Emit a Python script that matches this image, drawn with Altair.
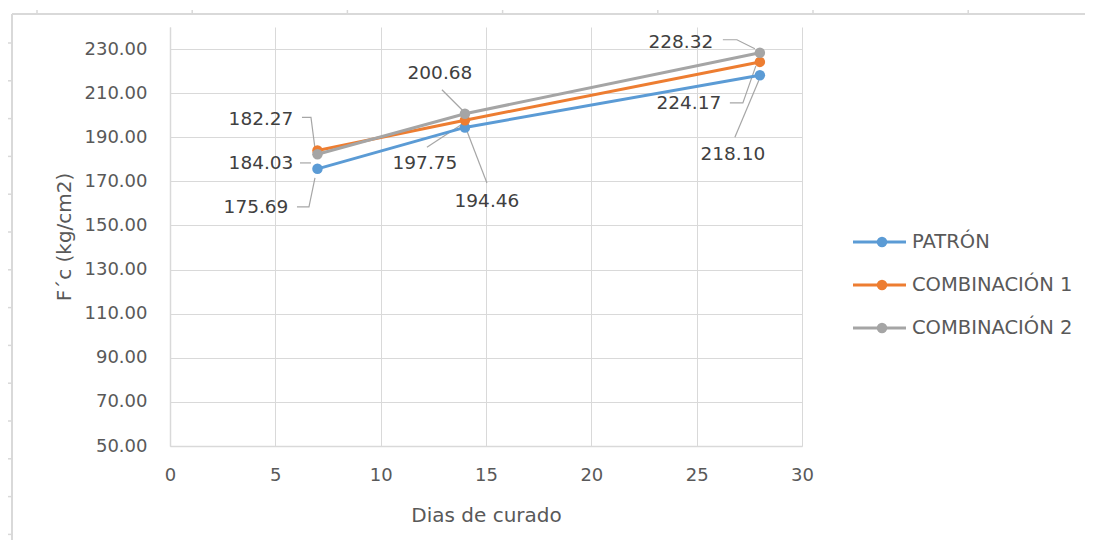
import altair as alt
import pandas as pd

# ---------------- data ----------------
days = [7, 14, 28]
series_names = ["PATRÓN", "COMBINACIÓN 1", "COMBINACIÓN 2"]
patron = [175.69, 194.46, 218.10]
combinacion1 = [184.03, 197.75, 224.17]
combinacion2 = [182.27, 200.68, 228.32]
values_by_series = [patron, combinacion1, combinacion2]

x_ticks = [0, 5, 10, 15, 20, 25, 30]
y_ticks = [50, 70, 90, 110, 130, 150, 170, 190, 210, 230]

# ---------------- style ----------------
colors = ["#5B9BD5", "#ED7D31", "#A5A5A5"]
FONT = "DejaVu Sans"
W, H = 632, 419
X_DOM = [0, 30]
Y_DOM = [50, 240]
PX_X = W / (X_DOM[1] - X_DOM[0])
PX_Y = H / (Y_DOM[1] - Y_DOM[0])

# label placement (pixel offsets from the point): text centre, leader path
label_style = {
    ("PATRÓN", 7): ((-61.5, 38), [(-20.5, 38), (-8.5, 38), (-2.5, 9)]),
    ("PATRÓN", 14): ((22, 73.5), [(22, 55.5), (2, 3.5)]),
    ("PATRÓN", 28): ((-27, 79), [(-25, 62), (-1, 5)]),
    ("COMBINACIÓN 1", 7): ((-56.5, 12.5), [(-17.5, 12.5), (-6.5, 12.5)]),
    ("COMBINACIÓN 1", 14): ((-40, 43), [(-38, 27), (-3, 4)]),
    ("COMBINACIÓN 1", 28): ((-71, 41), [(-30, 41), (-17, 41), (-4, 4)]),
    ("COMBINACIÓN 2", 7): ((-56.5, -35), [(-15.5, -37), (-6.5, -37), (-2.5, -6)]),
    ("COMBINACIÓN 2", 14): ((-25, -41), [(-23, -24), (-2, -3)]),
    ("COMBINACIÓN 2", 28): ((-79, -11), [(-37, -13), (-23, -13), (-5, -4)]),
}

# ---------------- tables ----------------
point_rows, label_rows, leader_rows = [], [], []
for s, vals in zip(series_names, values_by_series):
    for d, v in zip(days, vals):
        point_rows.append({"serie": s, "dias": d, "fc": v})
        (tdx, tdy), path = label_style[(s, d)]
        label_rows.append({"serie": s, "dias": d + tdx / PX_X, "fc": v - tdy / PX_Y,
                           "txt": f"{v:.2f}"})
        for k, (px, py) in enumerate(path):
            leader_rows.append({"id": f"{s}-{d}", "seq": k,
                                "dias": d + px / PX_X, "fc": v - py / PX_Y})
points = pd.DataFrame(point_rows)
labels = pd.DataFrame(label_rows)
leaders = pd.DataFrame(leader_rows)
one = pd.DataFrame({"k": [0]})

X = alt.X("dias:Q", scale=alt.Scale(domain=X_DOM, nice=False, zero=False),
          axis=alt.Axis(values=x_ticks, title="Dias de curado", labelPadding=20,
                        titlePadding=21, grid=True, labelFlush=False))
Y = alt.Y("fc:Q", scale=alt.Scale(domain=Y_DOM, nice=False, zero=False),
          axis=alt.Axis(values=y_ticks, format=".2f", title="F´c (kg/cm2)",
                        labelPadding=23, titlePadding=10, grid=True, labelFlush=False))

layers = []

# leader lines
layers.append(
    alt.Chart(leaders).mark_line(color="#A6A6A6", strokeWidth=1.2)
    .encode(x=X, y=Y, detail="id:N", order="seq:Q")
)

# series lines and points
for s, c in zip(series_names, colors):
    sub = points[points["serie"] == s]
    layers.append(alt.Chart(sub).mark_line(color=c, strokeWidth=3).encode(x=X, y=Y))
    layers.append(alt.Chart(sub).mark_point(color=c, filled=True, size=110, opacity=1)
                  .encode(x=X, y=Y))

# data labels
layers.append(
    alt.Chart(labels).mark_text(font=FONT, fontSize=18.5, color="#404040",
                                align="center", baseline="middle")
    .encode(x=X, y=Y, text="txt:N")
)

# manual legend (pixel positions relative to the plot area)
leg_y0, leg_dy = 215, 43
for i, (s, c) in enumerate(zip(series_names, colors)):
    yy = leg_y0 + i * leg_dy
    layers.append(alt.Chart(one).mark_rule(color=c, strokeWidth=3)
                  .encode(x=alt.value(683), x2=alt.value(736), y=alt.value(yy)))
    layers.append(alt.Chart(one).mark_point(color=c, filled=True, size=110, opacity=1)
                  .encode(x=alt.value(712), y=alt.value(yy)))
    layers.append(alt.Chart(one).mark_text(font=FONT, fontSize=19.5, color="#595959",
                                           align="left", baseline="middle", text=s)
                  .encode(x=alt.value(742), y=alt.value(yy)))

# outer sheet frame decoration
frame_c = "#D9D9D9"
layers.append(alt.Chart(one).mark_rule(color=frame_c, strokeWidth=2)
              .encode(x=alt.value(-158), x2=alt.value(923), y=alt.value(-13)))
layers.append(alt.Chart(one).mark_rule(color=frame_c, strokeWidth=2)
              .encode(x=alt.value(-158), y=alt.value(-13), y2=alt.value(520)))
for i in range(7):
    xx = -133 + i * 155.2
    layers.append(alt.Chart(one).mark_rule(color=frame_c, strokeWidth=1.5)
                  .encode(x=alt.value(xx), y=alt.value(-17), y2=alt.value(-13)))
for i in range(14):
    yy = 16 + i * 37.8
    layers.append(alt.Chart(one).mark_rule(color=frame_c, strokeWidth=1.5)
                  .encode(x=alt.value(-165), x2=alt.value(-158), y=alt.value(yy)))

chart = (
    alt.layer(*layers)
    .properties(width=W, height=H,
                padding={"left": 162, "top": 19, "right": 283, "bottom": 94},
                autosize=alt.AutoSizeParams(type="none"))
    .configure_view(stroke=None)
    .configure_axis(gridColor="#D9D9D9", gridWidth=1, domainColor="#D9D9D9",
                    domainWidth=1.5, ticks=False, tickSize=0,
                    labelFont=FONT, labelFontSize=18, labelColor="#595959",
                    titleFont=FONT, titleFontSize=20, titleColor="#595959",
                    titleFontWeight="normal")
)

chart.save("out.html", embed_options={"renderer": "svg", "actions": False})
